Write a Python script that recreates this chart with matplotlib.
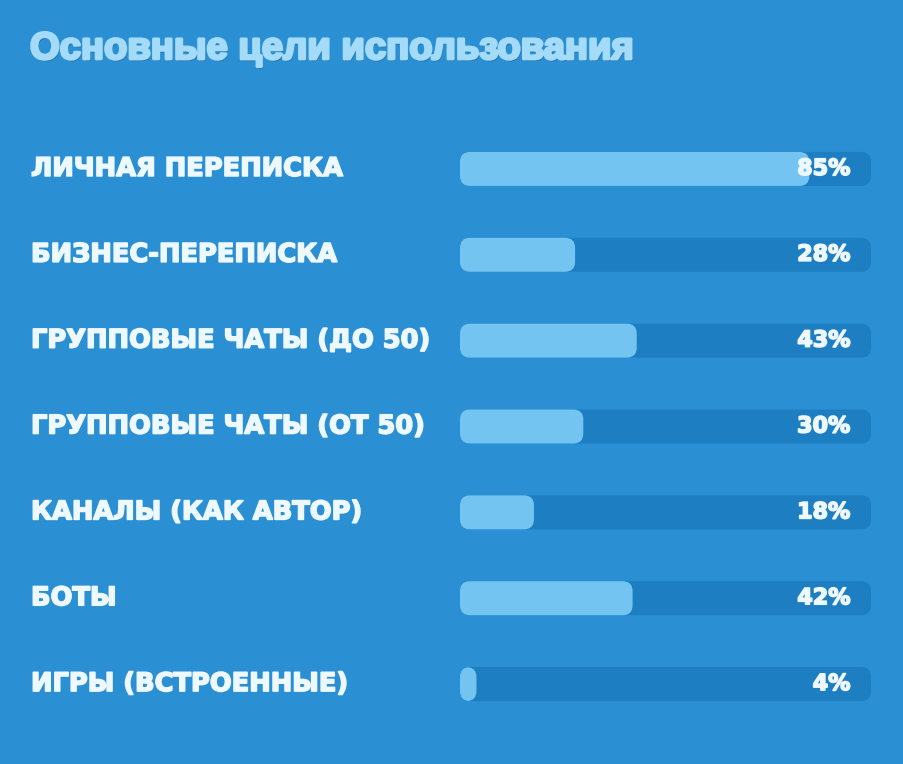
import matplotlib
matplotlib.use("Agg")
import matplotlib.pyplot as plt
from matplotlib.patches import FancyBboxPatch
from matplotlib import patheffects as pe
from matplotlib.transforms import blended_transform_factory

categories = ["ЛИЧНАЯ ПЕРЕПИСКА", "БИЗНЕС-ПЕРЕПИСКА", "ГРУППОВЫЕ ЧАТЫ (ДО 50)",
              "ГРУППОВЫЕ ЧАТЫ (ОТ 50)", "КАНАЛЫ (КАК АВТОР)", "БОТЫ", "ИГРЫ (ВСТРОЕННЫЕ)"]
values = [85, 28, 43, 30, 18, 42, 4]
title = "Основные цели использования"

bg = "#2a8fd3"
track = "#1d7ec2"
fill = "#74c4f1"
txt = "#eef8ff"

W, H = 904, 764
fig = plt.figure(figsize=(W / 100, H / 100), dpi=100, facecolor=bg)

# bar area in pixels
left, right, top, bottom = 460, 871, 126, 727
ax = fig.add_axes([left / W, 1 - bottom / H, (right - left) / W, (bottom - top) / H])
ax.set_xlim(0, 100)
ax.set_ylim(len(values) - 0.5, -0.5)
ax.axis("off")

px_x = (right - left) / 100
px_y = (bottom - top) / len(values)
bar_h = 34 / px_y
r = 10 / px_x
aspect = (10 / px_y) / r

heavy = [pe.withStroke(linewidth=1.2, foreground=txt)]
lab_tr = blended_transform_factory(fig.transFigure, ax.transData)

for i, v in enumerate(values):
    ax.add_patch(FancyBboxPatch((0, i - bar_h / 2), 100, bar_h,
                                boxstyle=f"round,pad=0,rounding_size={r}",
                                mutation_aspect=aspect, fc=track, ec="none"))
    ax.add_patch(FancyBboxPatch((0, i - bar_h / 2), v, bar_h,
                                boxstyle=f"round,pad=0,rounding_size={r}",
                                mutation_aspect=aspect, fc=fill, ec="none"))
    ax.text(95, i, f"{v}%", ha="right", va="center", color=txt, fontsize=16,
            fontweight="bold", family="DejaVu Sans", path_effects=heavy)
    ax.text(31 / W, i, categories[i], transform=lab_tr,
            ha="left", va="center", color=txt, fontsize=18.5, fontweight="bold",
            family="DejaVu Sans", path_effects=heavy)

fig.text(30 / W, 1 - 49 / H, title, ha="left", va="center", color="#a3dbf8",
         fontsize=27.5, fontweight="bold", family=["Liberation Sans", "DejaVu Sans"],
         path_effects=[pe.withSimplePatchShadow(offset=(1, -1.5), shadow_rgbFace="#2a6f9e", alpha=0.8),
                       pe.withStroke(linewidth=2, foreground="#a3dbf8")])

fig.savefig("out.png", dpi=100, facecolor=bg)
